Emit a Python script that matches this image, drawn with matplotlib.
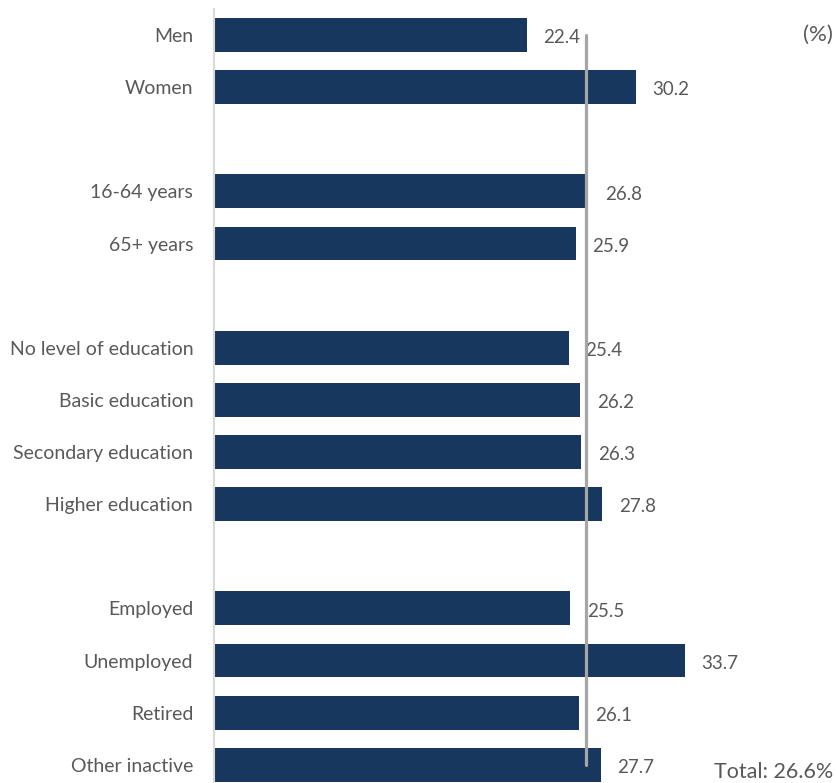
import matplotlib.pyplot as plt

# rows of the chart (blank slots make the gaps between groups)
labels = ["Men", "Women",
          "16-64 years", "65+ years",
          "No level of education", "Basic education",
          "Secondary education", "Higher education",
          "Employed", "Unemployed", "Retired", "Other inactive"]
values = [22.4, 30.2, 26.8, 25.9, 25.4, 26.2, 26.3, 27.8, 25.5, 33.7, 26.1, 27.7]
rows = [0, 1, 3, 4, 6, 7, 8, 9, 11, 12, 13, 14]
total = 26.6

bar_color = "#17375e"
text_color = "#595959"

plt.rcParams["font.family"] = ["Lato", "DejaVu Sans"]

fig = plt.figure(figsize=(8.37, 7.83), dpi=100)
ax = fig.add_axes([214 / 837, 0.0, 1 - 214 / 837, 1 - 9 / 783])

ax.barh(rows, values, height=0.65, color=bar_color)

for r, v in zip(rows, values):
    ax.annotate(f"{v:.1f}", (v, r), xytext=(12, -2), textcoords="offset points",
                va="center", ha="left", fontsize=13.5, color=text_color)

# total reference line
ax.plot([total, total], [rows[0], rows[-1]], color="#a6a6a6", linewidth=2.3,
        solid_capstyle="round", zorder=3)

ax.set_xlim(0, 44.6)
ax.set_ylim(14.35, -0.5)
ax.set_yticks(rows)
ax.set_yticklabels(labels, fontsize=14, color=text_color)
ax.tick_params(axis="y", length=0, pad=15)
ax.set_xticks([])

for side in ["top", "right", "bottom"]:
    ax.spines[side].set_visible(False)
ax.spines["left"].set_color("#d9d9d9")
ax.spines["left"].set_linewidth(1.5)

fig.text(833 / 837, 1 - 35 / 783, "(%)", ha="right", va="center",
         fontsize=16, color=text_color)
fig.text(833 / 837, 1 - 772 / 783, "Total: 26.6%", ha="right", va="center",
         fontsize=15.5, color=text_color)

fig.savefig("out.png", dpi=100)
